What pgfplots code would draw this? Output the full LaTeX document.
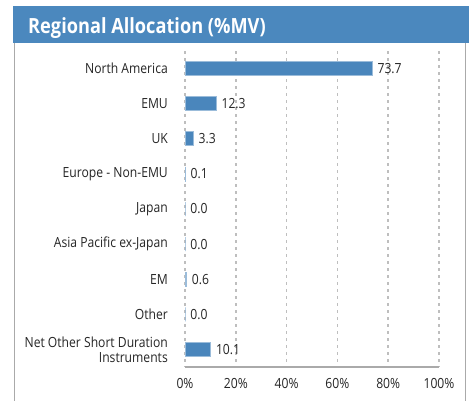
\documentclass[border=0pt]{standalone}
\usepackage{fontspec}
\setmainfont{Open Sans}[FakeStretch=0.87]
\usepackage{pgfplots}
\pgfplotsset{compat=1.18}
\definecolor{barblue}{RGB}{74,134,188}
\definecolor{bandblue}{RGB}{75,136,190}
\definecolor{gridgray}{RGB}{190,190,190}
\definecolor{framegray}{RGB}{170,170,170}
\pgfplotstableread{
idx val
0 73.7
1 12.3
2 3.3
3 0.1
4 0.0
5 0.0
6 0.6
7 0.0
8 10.1
}\alloc
\begin{document}
\begin{tikzpicture}[x=1bp,y=1bp]
\useasboundingbox (0,0) rectangle (469,401);
\fill[white] (0,0) rectangle (469,401);
\fill[bandblue] (13,358) rectangle (469,395);
\draw[framegray, line width=1bp] (14,358) -- (14,0);
\draw[framegray, line width=1bp] (465.5,358) -- (465.5,0);
\node[anchor=base west, inner sep=0pt, text=white, font=\fontsize{21}{24}\selectfont\bfseries] at (28,368) {Regional Allocation (\%MV)};
\begin{axis}[
  at={(185bp,34bp)}, anchor=south west,
  scale only axis, width=254bp, height=316bp,
  xbar, bar width=14bp,
  xmin=0, xmax=100, ymin=-0.5, ymax=8.5,
  y dir=reverse,
  ytick={0,...,8},
  yticklabels={North America, EMU, UK, Europe - Non-EMU, Japan, Asia Pacific ex-Japan, EM, Other, {Net Other Short Duration\\Instruments}},
  xtick={0,20,...,100},
  xticklabels={0\%,20\%,40\%,60\%,80\%,100\%},
  major tick length=0pt,
  axis x line*=bottom, axis y line*=left,
  y axis line style={draw=none},
  x axis line style={framegray, line width=1.5bp, -},
  xmajorgrids,
  grid style={gridgray, line width=1.5bp, dash pattern=on 2.5bp off 4.5bp},
  yticklabel style={inner sep=0pt, xshift=-17bp, align=right, font=\fontsize{14}{15}\selectfont, text=black!85},
  xticklabel style={inner sep=0pt, yshift=-11bp, font=\fontsize{14}{15}\selectfont, text=black!85},
  /pgf/number format/assume math mode=true,
  nodes near coords,
  point meta=x,
  nodes near coords={\pgfmathprintnumber[fixed, precision=1, zerofill]{\pgfplotspointmeta}},
  nodes near coords style={anchor=west, inner sep=0pt, xshift=5bp, font=\fontsize{14}{15}\selectfont, text=black!85},
  clip=false,
]
\addplot[fill=barblue, draw=barblue!55!white, line width=0.7bp] table[x=val, y=idx] {\alloc};
\end{axis}
\end{tikzpicture}
\end{document}
